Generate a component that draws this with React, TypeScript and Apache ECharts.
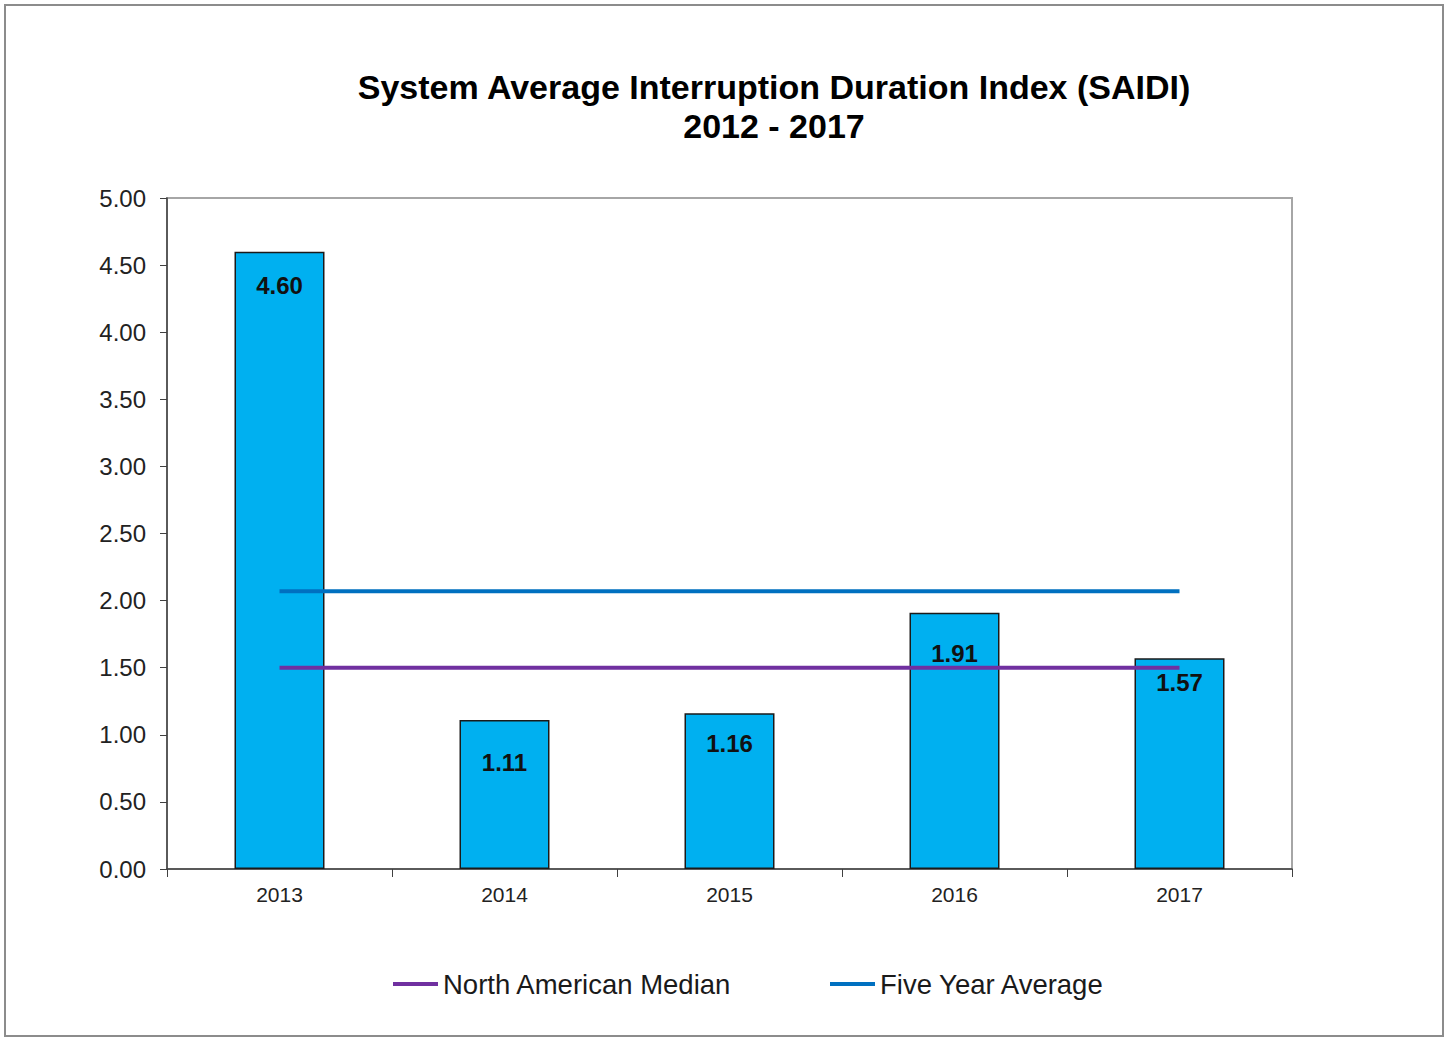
import React, { useEffect, useRef } from "react";
import * as echarts from "echarts";

const categories = ["2013", "2014", "2015", "2016", "2017"];
const saidiValues = [4.6, 1.11, 1.16, 1.91, 1.57];
const northAmericanMedian = [1.5, 1.5, 1.5, 1.5, 1.5];
const fiveYearAverage = [2.07, 2.07, 2.07, 2.07, 2.07];
const yTicks = [0, 0.5, 1, 1.5, 2, 2.5, 3, 3.5, 4, 4.5, 5];
// vertical distance (px) of each value label's centre below its bar top
const labelDrop = [34, 42, 30, 41, 24];

const FONT = "'Liberation Sans', Arial, sans-serif";

export default function App() {
  const ref = useRef<HTMLDivElement>(null);
  useEffect(() => {
    if (!ref.current) return;
    const chart = echarts.init(ref.current, null, { renderer: "svg" });
    chart.setOption({
      animation: false,
      backgroundColor: "#ffffff",
      textStyle: { fontFamily: FONT },
      title: {
        text: "System Average Interruption Duration Index (SAIDI)\n2012 - 2017",
        left: 769,
        top: 62,
        textAlign: "center",
        textStyle: {
          fontFamily: FONT,
          fontSize: 34,
          fontWeight: "bold",
          color: "#000000",
          lineHeight: 39,
        },
      },
      graphic: [
        {
          type: "rect",
          shape: { x: 5, y: 5, width: 1438, height: 1031 },
          style: { fill: "none", stroke: "#8c8c8c", lineWidth: 2 },
          silent: true,
        },
      ],
      legend: [
        {
          data: ["North American Median"],
          left: 388,
          top: 965,
          icon: "rect",
          itemWidth: 45,
          itemHeight: 4,
          textStyle: { fontFamily: FONT, fontSize: 27.5, color: "#1a1a1a" },
        },
        {
          data: ["Five Year Average"],
          left: 825,
          top: 965,
          icon: "rect",
          itemWidth: 45,
          itemHeight: 4,
          textStyle: { fontFamily: FONT, fontSize: 27.5, color: "#1a1a1a" },
        },
      ],
      grid: {
        left: 167,
        top: 198,
        right: 157,
        bottom: 169,
        show: true,
        borderColor: "#a6a6a6",
        borderWidth: 2,
        backgroundColor: "#ffffff",
      },
      xAxis: {
        type: "category",
        data: categories,
        boundaryGap: true,
        axisLine: { show: true, lineStyle: { color: "#404040", width: 1.5 } },
        axisTick: { show: true, length: 8, lineStyle: { color: "#404040" } },
        axisLabel: { fontFamily: FONT, fontSize: 21, color: "#222222", margin: 15 },
        splitLine: { show: false },
      },
      yAxis: {
        type: "value",
        min: yTicks[0],
        max: yTicks[yTicks.length - 1],
        interval: 0.5,
        axisLine: { show: true, lineStyle: { color: "#404040", width: 1.5 } },
        axisTick: { show: true, length: 7, lineStyle: { color: "#404040" } },
        axisLabel: {
          fontFamily: FONT,
          fontSize: 24,
          color: "#222222",
          margin: 21,
          formatter: (v: number) => v.toFixed(2),
        },
        splitLine: { show: false },
      },
      series: [
        {
          name: "SAIDI",
          type: "bar",
          barWidth: "40%",
          z: 2,
          data: saidiValues.map((v, i) => ({
            value: v,
            label: { position: ["50%", labelDrop[i]] },
          })),
          itemStyle: { color: "#00B0F0", borderColor: "#1a1a1a", borderWidth: 1.5 },
          label: {
            show: true,
            align: "center",
            verticalAlign: "middle",
            fontFamily: FONT,
            fontSize: 24,
            fontWeight: "bold",
            color: "#111111",
            formatter: (p: any) => Number(p.value).toFixed(2),
          },
        },
        {
          name: "North American Median",
          type: "line",
          z: 5,
          data: northAmericanMedian,
          symbol: "none",
          lineStyle: { color: "#7030A0", width: 4 },
          itemStyle: { color: "#7030A0" },
        },
        {
          name: "Five Year Average",
          type: "line",
          z: 5,
          data: fiveYearAverage,
          symbol: "none",
          lineStyle: { color: "#0070C0", width: 4 },
          itemStyle: { color: "#0070C0" },
        },
      ],
    });
    return () => chart.dispose();
  }, []);
  return (
    <div
      ref={ref}
      style={{ position: "absolute", left: 0, top: 0, width: 1449, height: 1038 }}
    />
  );
}
